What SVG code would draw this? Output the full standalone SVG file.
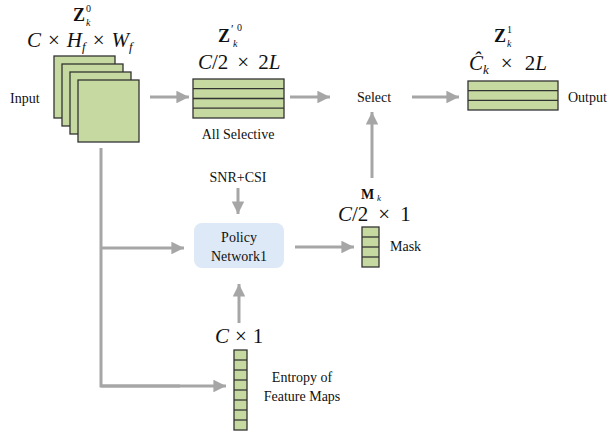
<svg xmlns="http://www.w3.org/2000/svg" width="613" height="435" viewBox="0 0 613 435" font-family="'Liberation Serif', 'DejaVu Serif', serif">
  <defs>
    <marker id="arr" viewBox="0 0 10 10" refX="10" refY="5" markerWidth="4.2" markerHeight="4.2" orient="auto" markerUnits="strokeWidth">
      <path d="M0,0 L10,5 L0,10 Z" fill="#a6a6a6"/>
    </marker>
    <style>
      text { font-family: 'Liberation Serif', 'DejaVu Serif', serif; fill: #111; }
      .t { font-size: 14px; }
      .m { font-size: 21px; }
      .i { font-style: italic; }
      .b { font-weight: bold; }
      .cell { fill: #c6d9a1; stroke: #333; stroke-width: 1.3; }
      .ln { stroke: #333; stroke-width: 1.3; }
      .c { stroke: #a6a6a6; stroke-width: 3; fill: none; }
      .ca { stroke: #a6a6a6; stroke-width: 3; fill: none; marker-end: url(#arr); }
    </style>
  </defs>
  <rect width="613" height="435" fill="#fff"/>

  <!-- connectors -->
  <g id="connectors">
    <line class="ca" x1="150" y1="97" x2="189" y2="97"/>
    <line class="ca" x1="290" y1="97" x2="330" y2="97"/>
    <line class="ca" x1="412" y1="97" x2="459" y2="97"/>
    <line class="ca" x1="372" y1="178" x2="372" y2="112"/>
    <line class="ca" x1="238" y1="188" x2="238" y2="214"/>
    <line class="ca" x1="295" y1="247" x2="354" y2="247"/>
    <line class="ca" x1="239" y1="323" x2="239" y2="284"/>
    <polyline class="c" points="101,148 101,386 180,386"/>
    <line class="ca" x1="101" y1="386" x2="226" y2="386"/>
    <line class="ca" x1="101" y1="248" x2="184" y2="248"/>
  </g>

  <!-- input feature maps -->
  <g id="input">
    <rect class="cell" x="54" y="56" width="61" height="62"/>
    <rect class="cell" x="62" y="64" width="61" height="62"/>
    <rect class="cell" x="70" y="72" width="61" height="62"/>
    <rect class="cell" x="78" y="80" width="61" height="62"/>
    <text class="t" x="10" y="103">Input</text>
    <text class="b" x="73" y="21" font-size="18">Z</text>
    <text x="86" y="12" font-size="10">0</text>
    <text class="i" x="86" y="26" font-size="10">k</text>
    <text class="m" x="27" y="47"><tspan class="i">C</tspan><tspan dx="7">×</tspan><tspan class="i" dx="7">H</tspan><tspan class="i" font-size="13" dy="4">f</tspan><tspan dy="-4" dx="7">×</tspan><tspan class="i" dx="7">W</tspan><tspan class="i" font-size="13" dy="4">f</tspan></text>
  </g>

  <!-- all selective block -->
  <g id="all-selective">
    <rect class="cell" x="193" y="79" width="91" height="39"/>
    <line class="ln" x1="193" y1="88.7" x2="284" y2="88.7"/>
    <line class="ln" x1="193" y1="98.5" x2="284" y2="98.5"/>
    <line class="ln" x1="193" y1="108.2" x2="284" y2="108.2"/>
    <text class="b" x="218" y="42" font-size="18">Z</text>
    <text x="231" y="33" font-size="12">′</text>
    <text x="237" y="31" font-size="10">0</text>
    <text class="i" x="233" y="47" font-size="10">k</text>
    <text class="m" x="198" y="69"><tspan class="i">C</tspan>/2<tspan dx="9">×</tspan><tspan dx="9">2</tspan><tspan class="i">L</tspan></text>
    <text class="t" x="238" y="139" text-anchor="middle">All Selective</text>
  </g>

  <!-- select -->
  <g id="select">
    <text class="t" x="374" y="102" text-anchor="middle">Select</text>
  </g>

  <!-- output block -->
  <g id="output">
    <rect class="cell" x="468" y="81" width="90" height="29"/>
    <line class="ln" x1="468" y1="90.7" x2="558" y2="90.7"/>
    <line class="ln" x1="468" y1="100.3" x2="558" y2="100.3"/>
    <text class="b" x="494" y="42" font-size="18">Z</text>
    <text x="507" y="33" font-size="10">1</text>
    <text class="i" x="507" y="47" font-size="10">k</text>
    <text class="m" x="469" y="70"><tspan class="i">Ĉ</tspan><tspan class="i" font-size="13" dy="4">k</tspan><tspan dy="-4" dx="12">×</tspan><tspan dx="12">2</tspan><tspan class="i">L</tspan></text>
    <text class="t" x="568" y="102">Output</text>
  </g>

  <!-- policy network -->
  <g id="policy-network">
    <rect x="194" y="223" width="90" height="45" rx="8" ry="8" fill="#dde9f6"/>
    <text class="t" x="239" y="242" text-anchor="middle">Policy</text>
    <text class="t" x="239" y="261" text-anchor="middle">Network1</text>
  </g>

  <!-- SNR+CSI -->
  <g id="snr-csi">
    <text class="t" x="238" y="182" text-anchor="middle">SNR+CSI</text>
  </g>

  <!-- mask -->
  <g id="mask">
    <rect class="cell" x="362" y="227" width="17" height="40"/>
    <line class="ln" x1="362" y1="237" x2="379" y2="237"/>
    <line class="ln" x1="362" y1="247" x2="379" y2="247"/>
    <line class="ln" x1="362" y1="257" x2="379" y2="257"/>
    <text class="b" x="361" y="199" font-size="14">M</text>
    <text class="i" x="377" y="201" font-size="9">k</text>
    <text class="m" x="338" y="221"><tspan class="i">C</tspan>/2<tspan dx="10">×</tspan><tspan dx="10">1</tspan></text>
    <text class="t" x="390" y="251">Mask</text>
  </g>

  <!-- entropy -->
  <g id="entropy">
    <rect class="cell" x="234" y="350" width="13" height="80"/>
    <line class="ln" x1="234" y1="360" x2="247" y2="360"/>
    <line class="ln" x1="234" y1="370" x2="247" y2="370"/>
    <line class="ln" x1="234" y1="380" x2="247" y2="380"/>
    <line class="ln" x1="234" y1="390" x2="247" y2="390"/>
    <line class="ln" x1="234" y1="400" x2="247" y2="400"/>
    <line class="ln" x1="234" y1="410" x2="247" y2="410"/>
    <line class="ln" x1="234" y1="420" x2="247" y2="420"/>
    <text class="m" x="215" y="343"><tspan class="i">C</tspan><tspan dx="6">×</tspan><tspan dx="6">1</tspan></text>
    <text class="t" x="302" y="382" text-anchor="middle">Entropy of</text>
    <text class="t" x="302" y="401" text-anchor="middle">Feature Maps</text>
  </g>
</svg>
